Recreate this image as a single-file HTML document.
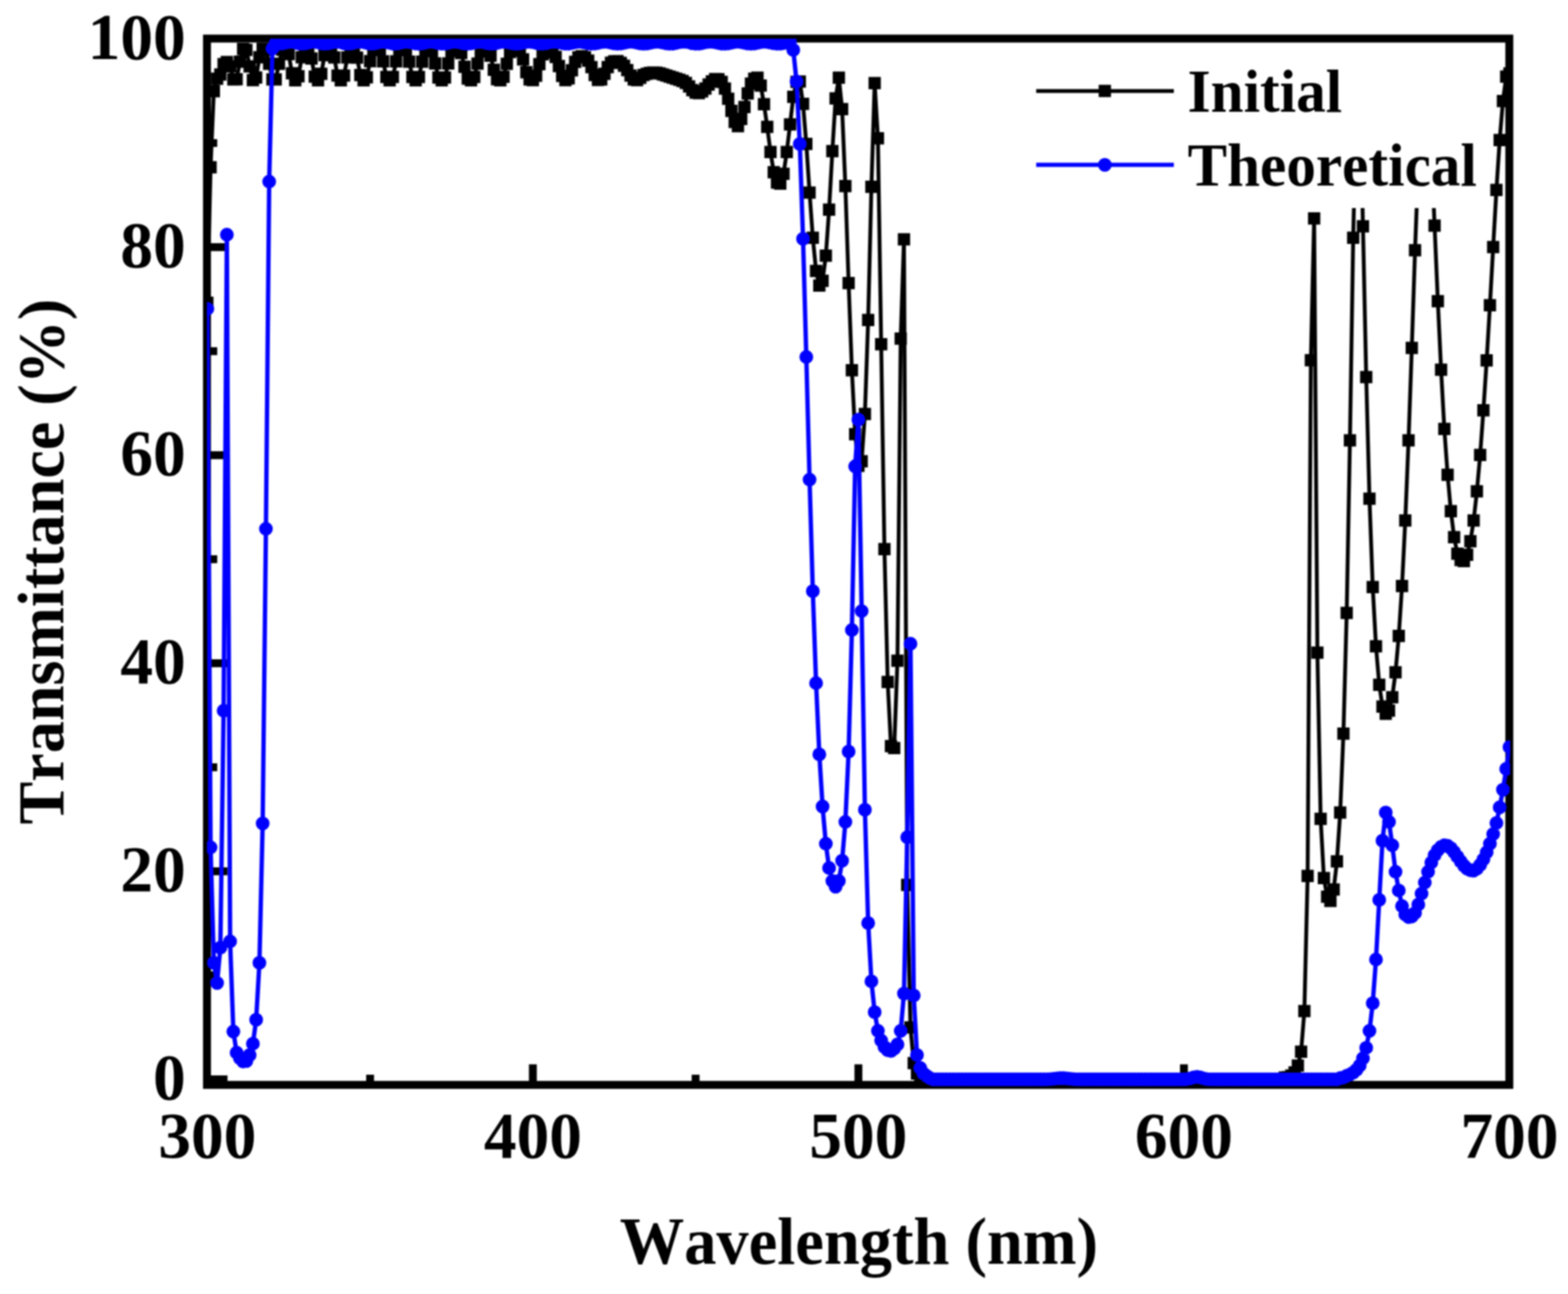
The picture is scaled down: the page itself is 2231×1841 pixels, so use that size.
<!DOCTYPE html>
<html lang="en"><head><meta charset="utf-8"><title>Transmittance vs Wavelength</title>
<style>
html,body{margin:0;padding:0;background:#fff;}
body{width:2231px;height:1841px;overflow:hidden;}
svg{display:block;filter:blur(1.1px);}
text{font-family:"Liberation Serif",serif;font-weight:bold;fill:#000;font-kerning:none;font-variant-ligatures:none;}
.tk{font-size:93px;}
.tt{font-size:91.8px;}
.ty{font-size:91.3px;}
.lg{font-size:84.2px;}
</style></head><body>
<svg width="2231" height="1841" viewBox="0 0 2231 1841">
<rect x="0" y="0" width="2231" height="1841" fill="#fff"/>
<defs><clipPath id="plot"><rect x="294.5" y="55" width="1854.2" height="1490.8"/></clipPath></defs>
<g id="axes" stroke="#000" fill="none" stroke-linecap="butt">
<rect x="294.5" y="54.9" width="1853" height="1488.6" stroke-width="11.3"/>
<path d="M526.59 1543.5V1528.9M758.17 1543.5V1514.3M989.76 1543.5V1528.9M1221.35 1543.5V1514.3M1452.94 1543.5V1528.9M1684.53 1543.5V1514.3M1916.11 1543.5V1528.9M294.5 1535.7H323.7M294.5 1387.68H309.1M294.5 1239.66H323.7M294.5 1091.64H309.1M294.5 943.62H323.7M294.5 795.6H309.1M294.5 647.58H323.7M294.5 499.56H309.1M294.5 351.54H323.7M294.5 203.52H309.1" stroke-width="11.2"/>
</g>
<g id="data" clip-path="url(#plot)">
<g id="series-initial">
<polyline points="295,430.68 299.63,237.99 304.26,129.74 308.9,111.99 313.53,106.08 318.16,91.29 322.79,88.33 327.42,94.62 332.05,112.94 336.69,112.75 341.32,87.65 345.95,69.85 350.58,70.94 355.21,94.4 359.84,113.89 364.48,110.32 369.11,81.47 373.74,69.36 378.37,70.63 383,90.79 387.63,113.01 392.27,113.01 396.9,90.79 401.53,70.63 406.16,69.27 410.79,76.93 415.43,104.17 420.06,114.2 424.69,108.4 429.32,81.43 433.95,69.56 438.58,69.83 443.22,83.21 447.85,108.97 452.48,114.2 457.11,105.1 461.74,78.5 466.37,69.4 471.01,69.73 475.64,81.75 480.27,107.58 484.9,114.21 489.53,107.58 494.17,81.75 498.8,69.73 503.43,69.92 508.06,82.04 512.69,106.8 517.32,114.21 521.96,109.99 526.59,86.99 531.22,70.79 535.85,69.12 540.48,71.23 545.11,87.34 549.75,109.38 554.38,114.21 559.01,109.38 563.64,87.34 568.27,71.23 572.9,69.14 577.54,71.35 582.17,87.65 586.8,109.47 591.43,114.21 596.06,109.47 600.7,87.65 605.33,71.35 609.96,69.15 614.59,72.64 619.22,90.32 623.85,110.15 628.49,114.21 633.12,110.15 637.75,90.32 642.38,72.64 647.01,69.22 651.64,69.49 656.28,75.41 660.91,95.04 665.54,111.64 670.17,114.21 674.8,109.62 679.44,90.47 684.07,73.18 688.7,69.28 693.33,70.16 697.96,79.14 702.59,99.36 707.23,112.66 711.86,114.19 716.49,109.18 721.12,90.86 725.75,73.89 730.38,69.39 735.02,69.28 739.65,72.11 744.28,84.4 748.91,102.8 753.54,113.1 758.17,114.1 762.81,107.83 767.44,91.25 772.07,77.27 776.7,72.76 781.33,72.67 785.97,74.58 790.6,80.96 795.23,94.01 799.86,107.94 804.49,114.1 809.12,111.41 813.76,99.9 818.39,87.92 823.02,81.59 827.65,79.98 832.28,81.54 836.91,86.23 841.55,95.39 846.18,106.66 850.81,113.64 855.44,112.88 860.07,105.09 864.71,95.47 869.34,89.31 873.97,87.13 878.6,87.02 883.23,89.43 887.86,93.42 892.5,99.8 897.13,107.43 901.76,113.03 906.39,114.01 911.02,110.83 915.65,106.82 920.29,105.02 924.92,103.86 929.55,103.21 934.18,103.38 938.81,104.62 943.44,106.08 948.08,107.47 952.71,108.99 957.34,110.52 961.97,111.92 966.6,113.47 971.24,115.36 975.87,117.91 980.5,123 985.13,128.26 989.76,131.64 994.39,132.51 999.03,129.96 1003.66,126.07 1008.29,120.31 1012.92,115.84 1017.55,112.41 1022.18,112.77 1026.82,116.43 1031.45,126.05 1036.08,140.56 1040.71,157.84 1045.34,173.59 1049.98,179.6 1054.61,169.3 1059.24,152.3 1063.87,132.9 1068.5,118.89 1073.13,111.99 1077.77,110.52 1082.4,121.75 1087.03,148.22 1091.66,180.61 1096.29,216.25 1100.92,245.09 1105.56,259.87 1110.19,261.35 1114.82,247.3 1119.45,216.25 1124.08,177.06 1128.71,137.87 1133.35,116.43 1137.98,115.99 1142.61,147.78 1147.24,204.72 1151.87,273.92 1156.51,338.25 1161.14,385.57 1165.77,406.28 1170.4,399.47 1175.03,363.69 1179.66,298.32 1184.3,215.07 1188.93,140.09 1193.56,110.52 1198.19,155.18 1202.82,264.75 1207.45,402.87 1212.09,526.65 1216.72,617.74 1221.35,662.85 1225.98,656.19 1230.61,588.91 1235.25,455.37 1239.88,265.79 1244.51,118.35 1249.14,196.73 1253.77,489.83 1258.4,781.3 1263.04,970.14 1267.67,1061.38 1272.3,1064.34 1276.93,940.12 1281.56,481.69 1286.19,340.62 1290.83,1259.1 1295.46,1461.84 1300.09,1512.42 1304.72,1527.21 1309.35,1531.64 1313.98,1535.64 1318.62,1535.64 1323.25,1535.64 1327.88,1535.64 1332.51,1535.64 1337.14,1535.64 1341.78,1535.64 1346.41,1535.64 1351.04,1535.64 1355.67,1535.64 1360.3,1535.64 1364.93,1535.64 1369.57,1535.64 1374.2,1535.64 1378.83,1535.64 1383.46,1535.64 1388.09,1535.64 1392.72,1535.64 1397.36,1535.64 1401.99,1535.64 1406.62,1535.64 1411.25,1535.64 1415.88,1535.64 1420.52,1535.64 1425.15,1535.64 1429.78,1535.64 1434.41,1535.64 1439.04,1535.64 1443.67,1535.64 1448.31,1535.64 1452.94,1535.64 1457.57,1535.64 1462.2,1535.64 1466.83,1535.64 1471.46,1535.64 1476.1,1535.64 1480.73,1535.64 1485.36,1535.64 1489.99,1535.64 1494.62,1535.64 1499.25,1535.64 1503.89,1535.64 1508.52,1535.64 1513.15,1535.64 1517.78,1535.64 1522.41,1535.64 1527.05,1535.64 1531.68,1535.64 1536.31,1535.64 1540.94,1535.64 1545.57,1535.64 1550.2,1535.64 1554.84,1535.64 1559.47,1535.64 1564.1,1535.64 1568.73,1535.64 1573.36,1535.64 1577.99,1535.64 1582.63,1535.64 1587.26,1535.64 1591.89,1535.64 1596.52,1535.64 1601.15,1535.64 1605.79,1535.64 1610.42,1535.64 1615.05,1535.64 1619.68,1535.64 1624.31,1535.64 1628.94,1535.64 1633.58,1535.64 1638.21,1535.64 1642.84,1535.64 1647.47,1535.64 1652.1,1535.64 1656.73,1535.64 1661.37,1535.64 1666,1535.64 1670.63,1535.64 1675.26,1535.64 1679.89,1535.64 1684.53,1535.64 1689.16,1535.64 1693.79,1535.64 1698.42,1535.64 1703.05,1535.64 1707.68,1535.64 1712.32,1535.64 1716.95,1535.64 1721.58,1535.64 1726.21,1535.64 1730.84,1535.64 1735.47,1535.64 1740.11,1535.64 1744.74,1535.64 1749.37,1535.64 1754,1535.64 1758.63,1535.64 1763.26,1535.64 1767.9,1535.64 1772.53,1535.64 1777.16,1535.64 1781.79,1535.64 1786.42,1535.64 1791.06,1535.64 1795.69,1535.64 1800.32,1535.64 1804.95,1535.64 1809.58,1535.64 1814.21,1535.64 1818.85,1535.64 1823.48,1535.64 1828.11,1533.12 1832.74,1532.38 1837.37,1530.16 1842,1525.73 1846.64,1515.97 1851.27,1496.15 1855.9,1438.48 1860.53,1246.23 1865.16,512.45 1869.79,310.75 1874.43,928.59 1879.06,1164.9 1883.69,1249.19 1888.32,1275.81 1892.95,1281.73 1897.59,1265.46 1902.22,1225.53 1906.85,1156.03 1911.48,1043.64 1916.11,872.1 1920.74,626.62 1925.38,338.25 1930.01,137.13 1934.64,114.95 1939.27,321.98 1943.9,536.41 1948.53,709.43 1953.17,835.13 1957.8,919.42 1962.43,974.13 1967.06,1005.19 1971.69,1015.54 1976.33,1011.1 1980.96,991.88 1985.59,956.39 1990.22,904.63 1994.85,833.65 1999.48,740.48 2004.12,626.62 2008.75,495 2013.38,356 2018.01,233.26 2022.64,151.92 2027.27,117.91 2031.91,137.13 2036.54,211.07 2041.17,321.1 2045.8,428.46 2050.43,526.06 2055.06,610.35 2059.7,675.42 2064.33,727.18 2068.96,764.15 2073.59,787.81 2078.22,796.68 2082.86,798.16 2087.49,789.28 2092.12,770.06 2096.75,740.48 2101.38,699.08 2106.01,647.32 2110.65,583.73 2115.28,512.75 2119.91,434.37 2124.54,351.56 2129.17,270.23 2133.8,199.24 2138.44,143.64 2143.07,109.04 2147.7,104.6" fill="none" stroke="#000" stroke-width="5.5" stroke-linejoin="round"/>
<path fill="#000" d="M286.25 421.93h17.5v17.5h-17.5zM290.88 229.24h17.5v17.5h-17.5zM295.51 120.99h17.5v17.5h-17.5zM300.15 103.24h17.5v17.5h-17.5zM304.78 97.33h17.5v17.5h-17.5zM309.41 82.54h17.5v17.5h-17.5zM314.04 79.58h17.5v17.5h-17.5zM318.67 85.87h17.5v17.5h-17.5zM323.3 104.19h17.5v17.5h-17.5zM327.94 104h17.5v17.5h-17.5zM332.57 78.9h17.5v17.5h-17.5zM337.2 61.1h17.5v17.5h-17.5zM341.83 62.19h17.5v17.5h-17.5zM346.46 85.65h17.5v17.5h-17.5zM351.09 105.14h17.5v17.5h-17.5zM355.73 101.57h17.5v17.5h-17.5zM360.36 72.72h17.5v17.5h-17.5zM364.99 60.61h17.5v17.5h-17.5zM369.62 61.88h17.5v17.5h-17.5zM374.25 82.04h17.5v17.5h-17.5zM378.88 104.26h17.5v17.5h-17.5zM383.52 104.26h17.5v17.5h-17.5zM388.15 82.04h17.5v17.5h-17.5zM392.78 61.88h17.5v17.5h-17.5zM397.41 60.52h17.5v17.5h-17.5zM402.04 68.18h17.5v17.5h-17.5zM406.68 95.42h17.5v17.5h-17.5zM411.31 105.45h17.5v17.5h-17.5zM415.94 99.65h17.5v17.5h-17.5zM420.57 72.68h17.5v17.5h-17.5zM425.2 60.81h17.5v17.5h-17.5zM429.83 61.08h17.5v17.5h-17.5zM434.47 74.46h17.5v17.5h-17.5zM439.1 100.22h17.5v17.5h-17.5zM443.73 105.45h17.5v17.5h-17.5zM448.36 96.35h17.5v17.5h-17.5zM452.99 69.75h17.5v17.5h-17.5zM457.62 60.65h17.5v17.5h-17.5zM462.26 60.98h17.5v17.5h-17.5zM466.89 73h17.5v17.5h-17.5zM471.52 98.83h17.5v17.5h-17.5zM476.15 105.46h17.5v17.5h-17.5zM480.78 98.83h17.5v17.5h-17.5zM485.42 73h17.5v17.5h-17.5zM490.05 60.98h17.5v17.5h-17.5zM494.68 61.17h17.5v17.5h-17.5zM499.31 73.29h17.5v17.5h-17.5zM503.94 98.05h17.5v17.5h-17.5zM508.57 105.46h17.5v17.5h-17.5zM513.21 101.24h17.5v17.5h-17.5zM517.84 78.24h17.5v17.5h-17.5zM522.47 62.04h17.5v17.5h-17.5zM527.1 60.37h17.5v17.5h-17.5zM531.73 62.48h17.5v17.5h-17.5zM536.36 78.59h17.5v17.5h-17.5zM541 100.63h17.5v17.5h-17.5zM545.63 105.46h17.5v17.5h-17.5zM550.26 100.63h17.5v17.5h-17.5zM554.89 78.59h17.5v17.5h-17.5zM559.52 62.48h17.5v17.5h-17.5zM564.15 60.39h17.5v17.5h-17.5zM568.79 62.6h17.5v17.5h-17.5zM573.42 78.9h17.5v17.5h-17.5zM578.05 100.72h17.5v17.5h-17.5zM582.68 105.46h17.5v17.5h-17.5zM587.31 100.72h17.5v17.5h-17.5zM591.95 78.9h17.5v17.5h-17.5zM596.58 62.6h17.5v17.5h-17.5zM601.21 60.4h17.5v17.5h-17.5zM605.84 63.89h17.5v17.5h-17.5zM610.47 81.57h17.5v17.5h-17.5zM615.1 101.4h17.5v17.5h-17.5zM619.74 105.46h17.5v17.5h-17.5zM624.37 101.4h17.5v17.5h-17.5zM629 81.57h17.5v17.5h-17.5zM633.63 63.89h17.5v17.5h-17.5zM638.26 60.47h17.5v17.5h-17.5zM642.89 60.74h17.5v17.5h-17.5zM647.53 66.66h17.5v17.5h-17.5zM652.16 86.29h17.5v17.5h-17.5zM656.79 102.89h17.5v17.5h-17.5zM661.42 105.46h17.5v17.5h-17.5zM666.05 100.87h17.5v17.5h-17.5zM670.69 81.72h17.5v17.5h-17.5zM675.32 64.43h17.5v17.5h-17.5zM679.95 60.53h17.5v17.5h-17.5zM684.58 61.41h17.5v17.5h-17.5zM689.21 70.39h17.5v17.5h-17.5zM693.84 90.61h17.5v17.5h-17.5zM698.48 103.91h17.5v17.5h-17.5zM703.11 105.44h17.5v17.5h-17.5zM707.74 100.43h17.5v17.5h-17.5zM712.37 82.11h17.5v17.5h-17.5zM717 65.14h17.5v17.5h-17.5zM721.63 60.64h17.5v17.5h-17.5zM726.27 60.53h17.5v17.5h-17.5zM730.9 63.36h17.5v17.5h-17.5zM735.53 75.65h17.5v17.5h-17.5zM740.16 94.05h17.5v17.5h-17.5zM744.79 104.35h17.5v17.5h-17.5zM749.42 105.35h17.5v17.5h-17.5zM754.06 99.08h17.5v17.5h-17.5zM758.69 82.5h17.5v17.5h-17.5zM763.32 68.52h17.5v17.5h-17.5zM767.95 64.01h17.5v17.5h-17.5zM772.58 63.92h17.5v17.5h-17.5zM777.22 65.83h17.5v17.5h-17.5zM781.85 72.21h17.5v17.5h-17.5zM786.48 85.26h17.5v17.5h-17.5zM791.11 99.19h17.5v17.5h-17.5zM795.74 105.35h17.5v17.5h-17.5zM800.37 102.66h17.5v17.5h-17.5zM805.01 91.15h17.5v17.5h-17.5zM809.64 79.17h17.5v17.5h-17.5zM814.27 72.84h17.5v17.5h-17.5zM818.9 71.23h17.5v17.5h-17.5zM823.53 72.79h17.5v17.5h-17.5zM828.16 77.48h17.5v17.5h-17.5zM832.8 86.64h17.5v17.5h-17.5zM837.43 97.91h17.5v17.5h-17.5zM842.06 104.89h17.5v17.5h-17.5zM846.69 104.13h17.5v17.5h-17.5zM851.32 96.34h17.5v17.5h-17.5zM855.96 86.72h17.5v17.5h-17.5zM860.59 80.56h17.5v17.5h-17.5zM865.22 78.38h17.5v17.5h-17.5zM869.85 78.27h17.5v17.5h-17.5zM874.48 80.68h17.5v17.5h-17.5zM879.11 84.67h17.5v17.5h-17.5zM883.75 91.05h17.5v17.5h-17.5zM888.38 98.68h17.5v17.5h-17.5zM893.01 104.28h17.5v17.5h-17.5zM897.64 105.26h17.5v17.5h-17.5zM902.27 102.08h17.5v17.5h-17.5zM906.9 98.07h17.5v17.5h-17.5zM911.54 96.27h17.5v17.5h-17.5zM916.17 95.11h17.5v17.5h-17.5zM920.8 94.46h17.5v17.5h-17.5zM925.43 94.63h17.5v17.5h-17.5zM930.06 95.87h17.5v17.5h-17.5zM934.69 97.33h17.5v17.5h-17.5zM939.33 98.72h17.5v17.5h-17.5zM943.96 100.24h17.5v17.5h-17.5zM948.59 101.77h17.5v17.5h-17.5zM953.22 103.17h17.5v17.5h-17.5zM957.85 104.72h17.5v17.5h-17.5zM962.49 106.61h17.5v17.5h-17.5zM967.12 109.16h17.5v17.5h-17.5zM971.75 114.25h17.5v17.5h-17.5zM976.38 119.51h17.5v17.5h-17.5zM981.01 122.89h17.5v17.5h-17.5zM985.64 123.76h17.5v17.5h-17.5zM990.28 121.21h17.5v17.5h-17.5zM994.91 117.32h17.5v17.5h-17.5zM999.54 111.56h17.5v17.5h-17.5zM1004.17 107.09h17.5v17.5h-17.5zM1008.8 103.66h17.5v17.5h-17.5zM1013.43 104.02h17.5v17.5h-17.5zM1018.07 107.68h17.5v17.5h-17.5zM1022.7 117.3h17.5v17.5h-17.5zM1027.33 131.81h17.5v17.5h-17.5zM1031.96 149.09h17.5v17.5h-17.5zM1036.59 164.84h17.5v17.5h-17.5zM1041.23 170.85h17.5v17.5h-17.5zM1045.86 160.55h17.5v17.5h-17.5zM1050.49 143.55h17.5v17.5h-17.5zM1055.12 124.15h17.5v17.5h-17.5zM1059.75 110.14h17.5v17.5h-17.5zM1064.38 103.24h17.5v17.5h-17.5zM1069.02 101.77h17.5v17.5h-17.5zM1073.65 113h17.5v17.5h-17.5zM1078.28 139.47h17.5v17.5h-17.5zM1082.91 171.86h17.5v17.5h-17.5zM1087.54 207.5h17.5v17.5h-17.5zM1092.17 236.34h17.5v17.5h-17.5zM1096.81 251.12h17.5v17.5h-17.5zM1101.44 252.6h17.5v17.5h-17.5zM1106.07 238.55h17.5v17.5h-17.5zM1110.7 207.5h17.5v17.5h-17.5zM1115.33 168.31h17.5v17.5h-17.5zM1119.96 129.12h17.5v17.5h-17.5zM1124.6 107.68h17.5v17.5h-17.5zM1129.23 107.24h17.5v17.5h-17.5zM1133.86 139.03h17.5v17.5h-17.5zM1138.49 195.97h17.5v17.5h-17.5zM1143.12 265.17h17.5v17.5h-17.5zM1147.76 329.5h17.5v17.5h-17.5zM1152.39 376.82h17.5v17.5h-17.5zM1157.02 397.53h17.5v17.5h-17.5zM1161.65 390.72h17.5v17.5h-17.5zM1166.28 354.94h17.5v17.5h-17.5zM1170.91 289.57h17.5v17.5h-17.5zM1175.55 206.32h17.5v17.5h-17.5zM1180.18 131.34h17.5v17.5h-17.5zM1184.81 101.77h17.5v17.5h-17.5zM1189.44 146.43h17.5v17.5h-17.5zM1194.07 256h17.5v17.5h-17.5zM1198.7 394.12h17.5v17.5h-17.5zM1203.34 517.9h17.5v17.5h-17.5zM1207.97 608.99h17.5v17.5h-17.5zM1212.6 654.1h17.5v17.5h-17.5zM1217.23 647.44h17.5v17.5h-17.5zM1221.86 580.16h17.5v17.5h-17.5zM1226.5 446.62h17.5v17.5h-17.5zM1231.13 257.04h17.5v17.5h-17.5zM1235.76 109.6h17.5v17.5h-17.5zM1240.39 187.98h17.5v17.5h-17.5zM1245.02 481.08h17.5v17.5h-17.5zM1249.65 772.55h17.5v17.5h-17.5zM1254.29 961.39h17.5v17.5h-17.5zM1258.92 1052.63h17.5v17.5h-17.5zM1263.55 1055.59h17.5v17.5h-17.5zM1268.18 931.37h17.5v17.5h-17.5zM1272.81 472.94h17.5v17.5h-17.5zM1277.44 331.87h17.5v17.5h-17.5zM1282.08 1250.35h17.5v17.5h-17.5zM1286.71 1453.09h17.5v17.5h-17.5zM1291.34 1503.67h17.5v17.5h-17.5zM1295.97 1518.46h17.5v17.5h-17.5zM1300.6 1522.89h17.5v17.5h-17.5zM1305.23 1526.89h17.5v17.5h-17.5zM1309.87 1526.89h17.5v17.5h-17.5zM1314.5 1526.89h17.5v17.5h-17.5zM1319.13 1526.89h17.5v17.5h-17.5zM1323.76 1526.89h17.5v17.5h-17.5zM1328.39 1526.89h17.5v17.5h-17.5zM1333.03 1526.89h17.5v17.5h-17.5zM1337.66 1526.89h17.5v17.5h-17.5zM1342.29 1526.89h17.5v17.5h-17.5zM1346.92 1526.89h17.5v17.5h-17.5zM1351.55 1526.89h17.5v17.5h-17.5zM1356.18 1526.89h17.5v17.5h-17.5zM1360.82 1526.89h17.5v17.5h-17.5zM1365.45 1526.89h17.5v17.5h-17.5zM1370.08 1526.89h17.5v17.5h-17.5zM1374.71 1526.89h17.5v17.5h-17.5zM1379.34 1526.89h17.5v17.5h-17.5zM1383.97 1526.89h17.5v17.5h-17.5zM1388.61 1526.89h17.5v17.5h-17.5zM1393.24 1526.89h17.5v17.5h-17.5zM1397.87 1526.89h17.5v17.5h-17.5zM1402.5 1526.89h17.5v17.5h-17.5zM1407.13 1526.89h17.5v17.5h-17.5zM1411.77 1526.89h17.5v17.5h-17.5zM1416.4 1526.89h17.5v17.5h-17.5zM1421.03 1526.89h17.5v17.5h-17.5zM1425.66 1526.89h17.5v17.5h-17.5zM1430.29 1526.89h17.5v17.5h-17.5zM1434.92 1526.89h17.5v17.5h-17.5zM1439.56 1526.89h17.5v17.5h-17.5zM1444.19 1526.89h17.5v17.5h-17.5zM1448.82 1526.89h17.5v17.5h-17.5zM1453.45 1526.89h17.5v17.5h-17.5zM1458.08 1526.89h17.5v17.5h-17.5zM1462.71 1526.89h17.5v17.5h-17.5zM1467.35 1526.89h17.5v17.5h-17.5zM1471.98 1526.89h17.5v17.5h-17.5zM1476.61 1526.89h17.5v17.5h-17.5zM1481.24 1526.89h17.5v17.5h-17.5zM1485.87 1526.89h17.5v17.5h-17.5zM1490.5 1526.89h17.5v17.5h-17.5zM1495.14 1526.89h17.5v17.5h-17.5zM1499.77 1526.89h17.5v17.5h-17.5zM1504.4 1526.89h17.5v17.5h-17.5zM1509.03 1526.89h17.5v17.5h-17.5zM1513.66 1526.89h17.5v17.5h-17.5zM1518.3 1526.89h17.5v17.5h-17.5zM1522.93 1526.89h17.5v17.5h-17.5zM1527.56 1526.89h17.5v17.5h-17.5zM1532.19 1526.89h17.5v17.5h-17.5zM1536.82 1526.89h17.5v17.5h-17.5zM1541.45 1526.89h17.5v17.5h-17.5zM1546.09 1526.89h17.5v17.5h-17.5zM1550.72 1526.89h17.5v17.5h-17.5zM1555.35 1526.89h17.5v17.5h-17.5zM1559.98 1526.89h17.5v17.5h-17.5zM1564.61 1526.89h17.5v17.5h-17.5zM1569.24 1526.89h17.5v17.5h-17.5zM1573.88 1526.89h17.5v17.5h-17.5zM1578.51 1526.89h17.5v17.5h-17.5zM1583.14 1526.89h17.5v17.5h-17.5zM1587.77 1526.89h17.5v17.5h-17.5zM1592.4 1526.89h17.5v17.5h-17.5zM1597.04 1526.89h17.5v17.5h-17.5zM1601.67 1526.89h17.5v17.5h-17.5zM1606.3 1526.89h17.5v17.5h-17.5zM1610.93 1526.89h17.5v17.5h-17.5zM1615.56 1526.89h17.5v17.5h-17.5zM1620.19 1526.89h17.5v17.5h-17.5zM1624.83 1526.89h17.5v17.5h-17.5zM1629.46 1526.89h17.5v17.5h-17.5zM1634.09 1526.89h17.5v17.5h-17.5zM1638.72 1526.89h17.5v17.5h-17.5zM1643.35 1526.89h17.5v17.5h-17.5zM1647.98 1526.89h17.5v17.5h-17.5zM1652.62 1526.89h17.5v17.5h-17.5zM1657.25 1526.89h17.5v17.5h-17.5zM1661.88 1526.89h17.5v17.5h-17.5zM1666.51 1526.89h17.5v17.5h-17.5zM1671.14 1526.89h17.5v17.5h-17.5zM1675.78 1526.89h17.5v17.5h-17.5zM1680.41 1526.89h17.5v17.5h-17.5zM1685.04 1526.89h17.5v17.5h-17.5zM1689.67 1526.89h17.5v17.5h-17.5zM1694.3 1526.89h17.5v17.5h-17.5zM1698.93 1526.89h17.5v17.5h-17.5zM1703.57 1526.89h17.5v17.5h-17.5zM1708.2 1526.89h17.5v17.5h-17.5zM1712.83 1526.89h17.5v17.5h-17.5zM1717.46 1526.89h17.5v17.5h-17.5zM1722.09 1526.89h17.5v17.5h-17.5zM1726.72 1526.89h17.5v17.5h-17.5zM1731.36 1526.89h17.5v17.5h-17.5zM1735.99 1526.89h17.5v17.5h-17.5zM1740.62 1526.89h17.5v17.5h-17.5zM1745.25 1526.89h17.5v17.5h-17.5zM1749.88 1526.89h17.5v17.5h-17.5zM1754.51 1526.89h17.5v17.5h-17.5zM1759.15 1526.89h17.5v17.5h-17.5zM1763.78 1526.89h17.5v17.5h-17.5zM1768.41 1526.89h17.5v17.5h-17.5zM1773.04 1526.89h17.5v17.5h-17.5zM1777.67 1526.89h17.5v17.5h-17.5zM1782.31 1526.89h17.5v17.5h-17.5zM1786.94 1526.89h17.5v17.5h-17.5zM1791.57 1526.89h17.5v17.5h-17.5zM1796.2 1526.89h17.5v17.5h-17.5zM1800.83 1526.89h17.5v17.5h-17.5zM1805.46 1526.89h17.5v17.5h-17.5zM1810.1 1526.89h17.5v17.5h-17.5zM1814.73 1526.89h17.5v17.5h-17.5zM1819.36 1524.37h17.5v17.5h-17.5zM1823.99 1523.63h17.5v17.5h-17.5zM1828.62 1521.41h17.5v17.5h-17.5zM1833.25 1516.98h17.5v17.5h-17.5zM1837.89 1507.22h17.5v17.5h-17.5zM1842.52 1487.4h17.5v17.5h-17.5zM1847.15 1429.73h17.5v17.5h-17.5zM1851.78 1237.48h17.5v17.5h-17.5zM1856.41 503.7h17.5v17.5h-17.5zM1861.04 302h17.5v17.5h-17.5zM1865.68 919.84h17.5v17.5h-17.5zM1870.31 1156.15h17.5v17.5h-17.5zM1874.94 1240.44h17.5v17.5h-17.5zM1879.57 1267.06h17.5v17.5h-17.5zM1884.2 1272.98h17.5v17.5h-17.5zM1888.84 1256.71h17.5v17.5h-17.5zM1893.47 1216.78h17.5v17.5h-17.5zM1898.1 1147.28h17.5v17.5h-17.5zM1902.73 1034.89h17.5v17.5h-17.5zM1907.36 863.35h17.5v17.5h-17.5zM1911.99 617.87h17.5v17.5h-17.5zM1916.63 329.5h17.5v17.5h-17.5zM1921.26 128.38h17.5v17.5h-17.5zM1925.89 106.2h17.5v17.5h-17.5zM1930.52 313.23h17.5v17.5h-17.5zM1935.15 527.66h17.5v17.5h-17.5zM1939.78 700.68h17.5v17.5h-17.5zM1944.42 826.38h17.5v17.5h-17.5zM1949.05 910.67h17.5v17.5h-17.5zM1953.68 965.38h17.5v17.5h-17.5zM1958.31 996.44h17.5v17.5h-17.5zM1962.94 1006.79h17.5v17.5h-17.5zM1967.58 1002.35h17.5v17.5h-17.5zM1972.21 983.13h17.5v17.5h-17.5zM1976.84 947.64h17.5v17.5h-17.5zM1981.47 895.88h17.5v17.5h-17.5zM1986.1 824.9h17.5v17.5h-17.5zM1990.73 731.73h17.5v17.5h-17.5zM1995.37 617.87h17.5v17.5h-17.5zM2000 486.25h17.5v17.5h-17.5zM2004.63 347.25h17.5v17.5h-17.5zM2009.26 224.51h17.5v17.5h-17.5zM2013.89 143.17h17.5v17.5h-17.5zM2018.52 109.16h17.5v17.5h-17.5zM2023.16 128.38h17.5v17.5h-17.5zM2027.79 202.32h17.5v17.5h-17.5zM2032.42 312.35h17.5v17.5h-17.5zM2037.05 419.71h17.5v17.5h-17.5zM2041.68 517.31h17.5v17.5h-17.5zM2046.31 601.6h17.5v17.5h-17.5zM2050.95 666.67h17.5v17.5h-17.5zM2055.58 718.43h17.5v17.5h-17.5zM2060.21 755.4h17.5v17.5h-17.5zM2064.84 779.06h17.5v17.5h-17.5zM2069.47 787.93h17.5v17.5h-17.5zM2074.11 789.41h17.5v17.5h-17.5zM2078.74 780.53h17.5v17.5h-17.5zM2083.37 761.31h17.5v17.5h-17.5zM2088 731.73h17.5v17.5h-17.5zM2092.63 690.33h17.5v17.5h-17.5zM2097.26 638.57h17.5v17.5h-17.5zM2101.9 574.98h17.5v17.5h-17.5zM2106.53 504h17.5v17.5h-17.5zM2111.16 425.62h17.5v17.5h-17.5zM2115.79 342.81h17.5v17.5h-17.5zM2120.42 261.48h17.5v17.5h-17.5zM2125.05 190.49h17.5v17.5h-17.5zM2129.69 134.89h17.5v17.5h-17.5zM2134.32 100.29h17.5v17.5h-17.5zM2138.95 95.85h17.5v17.5h-17.5z"/>
</g>
<g id="series-theoretical">
<polyline points="295,439.4 299.63,1205.57 304.26,1369.71 308.9,1398.55 313.53,1348.27 318.16,1011.1 322.79,333.81 327.42,1339.4 332.05,1467.61 336.69,1497.63 341.32,1505.62 345.95,1510.2 350.58,1509.46 355.21,1501.03 359.84,1484.91 364.48,1450.75 369.11,1369.71 373.74,1171.55 378.37,752.31 383,258.4 387.63,69.11 392.27,61.55 396.9,62.29 401.53,61.9 406.16,60.69 410.79,59.59 415.43,59.43 420.06,60.34 424.69,61.62 429.32,62.3 433.95,61.87 438.58,60.66 443.22,59.57 447.85,59.43 452.48,60.33 457.11,61.6 461.74,62.29 466.37,61.9 471.01,60.72 475.64,59.61 480.27,59.41 484.9,60.24 489.53,61.5 494.17,62.27 498.8,61.99 503.43,60.87 508.06,59.72 512.69,59.37 517.32,60.07 521.96,61.32 526.59,62.21 531.22,62.12 535.85,61.1 540.48,59.9 545.11,59.35 549.75,59.85 554.38,61.04 559.01,62.08 563.64,62.24 568.27,61.42 572.9,60.18 577.54,59.4 582.17,59.61 586.8,60.66 591.43,61.83 596.06,62.31 600.7,61.77 605.33,60.58 609.96,59.57 614.59,59.41 619.22,60.22 623.85,61.44 628.49,62.24 633.12,62.09 637.75,61.09 642.38,59.92 647.01,59.35 651.64,59.78 656.28,60.9 660.91,61.98 665.54,62.29 670.17,61.64 674.8,60.45 679.44,59.51 684.07,59.44 688.7,60.28 693.33,61.47 697.96,62.24 702.59,62.1 707.23,61.13 711.86,59.96 716.49,59.36 721.12,59.7 725.75,60.76 730.38,61.87 735.02,62.31 739.65,61.8 744.28,60.68 748.91,59.65 753.54,59.37 758.17,60.01 762.81,61.16 767.44,62.1 772.07,62.25 776.7,61.5 781.33,60.34 785.97,59.48 790.6,59.46 795.23,60.28 799.86,61.44 804.49,62.22 809.12,62.15 813.76,61.26 818.39,60.11 823.02,59.4 827.65,59.56 832.28,60.49 836.91,61.62 841.55,62.28 846.18,62.06 850.81,61.1 855.44,59.98 860.07,59.37 864.71,59.63 869.34,60.6 873.97,61.71 878.6,62.29 883.23,62.01 887.86,61.03 892.5,59.93 897.13,59.36 901.76,59.65 906.39,60.62 911.02,61.72 915.65,62.29 920.29,62.02 924.92,61.05 929.55,59.96 934.18,59.37 938.81,59.62 943.44,60.56 948.08,61.65 952.71,62.28 957.34,62.08 961.97,61.17 966.6,60.07 971.24,59.4 975.87,59.54 980.5,60.4 985.13,61.5 989.76,62.23 994.39,62.17 999.03,61.36 1003.66,60.26 1008.29,59.47 1012.92,59.44 1017.55,60.17 1022.18,61.26 1026.82,62.12 1031.45,62.26 1036.08,61.62 1040.71,60.55 1045.34,59.63 1049.98,59.36 1054.61,59.89 1059.24,60.92 1063.87,61.91 1068.5,62.31 1073.13,61.91 1077.77,60.94 1082.4,59.91 1087.03,59.37 1091.66,59.61 1096.29,60.49 1100.92,61.56 1105.56,62.24 1110.19,62.17 1114.82,61.4 1119.45,60.33 1124.08,59.52 1128.71,71.03 1133.35,115.99 1137.98,204.72 1142.61,339.73 1147.24,507.87 1151.87,682.37 1156.51,841.04 1161.14,971.92 1165.77,1073.21 1170.4,1147.45 1175.03,1200.39 1179.66,1234.85 1184.3,1253.33 1188.93,1261.47 1193.56,1253.33 1198.19,1224.5 1202.82,1169.34 1207.45,1069.22 1212.09,896.35 1216.72,663.59 1221.35,597.04 1225.98,869.44 1230.61,1152.03 1235.25,1313.22 1239.88,1396.18 1244.51,1439.96 1249.14,1466.58 1253.77,1480.33 1258.4,1489.5 1263.04,1494.08 1267.67,1495.26 1272.3,1491.71 1276.93,1485.95 1281.56,1466.58 1286.19,1413.49 1290.83,1191.07 1295.46,915.87 1300.09,1416.3 1304.72,1501.03 1309.35,1519.37 1313.98,1527.21 1318.62,1530.9 1323.25,1533.86 1327.88,1535.64 1332.51,1535.64 1337.14,1535.64 1341.78,1535.64 1346.41,1535.64 1351.04,1535.64 1355.67,1535.64 1360.3,1535.64 1364.93,1535.64 1369.57,1535.64 1374.2,1535.64 1378.83,1535.64 1383.46,1535.64 1388.09,1535.64 1392.72,1535.64 1397.36,1535.64 1401.99,1535.64 1406.62,1535.64 1411.25,1535.64 1415.88,1535.64 1420.52,1535.64 1425.15,1535.64 1429.78,1535.64 1434.41,1535.64 1439.04,1535.64 1443.67,1535.64 1448.31,1535.64 1452.94,1535.64 1457.57,1535.64 1462.2,1535.64 1466.83,1535.64 1471.46,1535.63 1476.1,1535.63 1480.73,1535.62 1485.36,1535.57 1489.99,1535.45 1494.62,1535.18 1499.25,1534.75 1503.89,1534.25 1508.52,1533.91 1513.15,1533.91 1517.78,1534.25 1522.41,1534.75 1527.05,1535.18 1531.68,1535.45 1536.31,1535.57 1540.94,1535.62 1545.57,1535.63 1550.2,1535.63 1554.84,1535.64 1559.47,1535.64 1564.1,1535.64 1568.73,1535.64 1573.36,1535.64 1577.99,1535.64 1582.63,1535.64 1587.26,1535.64 1591.89,1535.64 1596.52,1535.64 1601.15,1535.64 1605.79,1535.64 1610.42,1535.64 1615.05,1535.64 1619.68,1535.64 1624.31,1535.64 1628.94,1535.64 1633.58,1535.64 1638.21,1535.64 1642.84,1535.64 1647.47,1535.64 1652.1,1535.64 1656.73,1535.64 1661.37,1535.64 1666,1535.64 1670.63,1535.64 1675.26,1535.63 1679.89,1535.63 1684.53,1535.57 1689.16,1535.25 1693.79,1534.28 1698.42,1532.76 1703.05,1531.94 1707.68,1532.76 1712.32,1534.28 1716.95,1535.25 1721.58,1535.57 1726.21,1535.63 1730.84,1535.63 1735.47,1535.64 1740.11,1535.64 1744.74,1535.64 1749.37,1535.64 1754,1535.64 1758.63,1535.64 1763.26,1535.64 1767.9,1535.64 1772.53,1535.64 1777.16,1535.64 1781.79,1535.64 1786.42,1535.64 1791.06,1535.64 1795.69,1535.64 1800.32,1535.64 1804.95,1535.64 1809.58,1535.64 1814.21,1535.64 1818.85,1535.64 1823.48,1535.64 1828.11,1535.64 1832.74,1535.64 1837.37,1535.64 1842,1535.64 1846.64,1535.64 1851.27,1535.64 1855.9,1535.64 1860.53,1535.64 1865.16,1535.64 1869.79,1535.64 1874.43,1535.64 1879.06,1535.64 1883.69,1535.64 1888.32,1535.64 1892.95,1535.64 1897.59,1535.64 1902.22,1535.64 1906.85,1533.86 1911.48,1532.83 1916.11,1530.61 1920.74,1528.68 1925.38,1526.02 1930.01,1522.03 1934.64,1515.97 1939.27,1505.62 1943.9,1490.68 1948.53,1466.58 1953.17,1427.24 1957.8,1365.13 1962.43,1280.25 1967.06,1195.95 1971.69,1156.03 1976.33,1169.34 1980.96,1202.61 1985.59,1240.32 1990.22,1266.94 1994.85,1289.12 1999.48,1300.95 2004.12,1304.65 2008.75,1303.91 2013.38,1298.73 2018.01,1286.9 2022.64,1271.37 2027.27,1255.57 2031.91,1240.32 2036.54,1227.1 2041.17,1216.66 2045.8,1209.54 2050.43,1204.83 2055.06,1202.61 2059.7,1203.35 2064.33,1206.75 2068.96,1212.22 2073.59,1218.75 2078.22,1225.53 2082.86,1231.52 2087.49,1235.88 2092.12,1238.18 2096.75,1238.61 2101.38,1235.88 2106.01,1230.49 2110.65,1222.57 2115.28,1212.57 2119.91,1200.39 2124.54,1186.59 2129.17,1170.82 2133.8,1148.63 2138.44,1123.49 2143.07,1093.92 2147.7,1062.86" fill="none" stroke="#00f" stroke-width="6.2" stroke-linejoin="round"/>
<path fill="#00f" d="M285.2 439.4a9.8 9.8 0 1 0 19.6 0a9.8 9.8 0 1 0 -19.6 0zM289.83 1205.57a9.8 9.8 0 1 0 19.6 0a9.8 9.8 0 1 0 -19.6 0zM294.46 1369.71a9.8 9.8 0 1 0 19.6 0a9.8 9.8 0 1 0 -19.6 0zM299.1 1398.55a9.8 9.8 0 1 0 19.6 0a9.8 9.8 0 1 0 -19.6 0zM303.73 1348.27a9.8 9.8 0 1 0 19.6 0a9.8 9.8 0 1 0 -19.6 0zM308.36 1011.1a9.8 9.8 0 1 0 19.6 0a9.8 9.8 0 1 0 -19.6 0zM312.99 333.81a9.8 9.8 0 1 0 19.6 0a9.8 9.8 0 1 0 -19.6 0zM317.62 1339.4a9.8 9.8 0 1 0 19.6 0a9.8 9.8 0 1 0 -19.6 0zM322.25 1467.61a9.8 9.8 0 1 0 19.6 0a9.8 9.8 0 1 0 -19.6 0zM326.89 1497.63a9.8 9.8 0 1 0 19.6 0a9.8 9.8 0 1 0 -19.6 0zM331.52 1505.62a9.8 9.8 0 1 0 19.6 0a9.8 9.8 0 1 0 -19.6 0zM336.15 1510.2a9.8 9.8 0 1 0 19.6 0a9.8 9.8 0 1 0 -19.6 0zM340.78 1509.46a9.8 9.8 0 1 0 19.6 0a9.8 9.8 0 1 0 -19.6 0zM345.41 1501.03a9.8 9.8 0 1 0 19.6 0a9.8 9.8 0 1 0 -19.6 0zM350.04 1484.91a9.8 9.8 0 1 0 19.6 0a9.8 9.8 0 1 0 -19.6 0zM354.68 1450.75a9.8 9.8 0 1 0 19.6 0a9.8 9.8 0 1 0 -19.6 0zM359.31 1369.71a9.8 9.8 0 1 0 19.6 0a9.8 9.8 0 1 0 -19.6 0zM363.94 1171.55a9.8 9.8 0 1 0 19.6 0a9.8 9.8 0 1 0 -19.6 0zM368.57 752.31a9.8 9.8 0 1 0 19.6 0a9.8 9.8 0 1 0 -19.6 0zM373.2 258.4a9.8 9.8 0 1 0 19.6 0a9.8 9.8 0 1 0 -19.6 0zM377.83 69.11a9.8 9.8 0 1 0 19.6 0a9.8 9.8 0 1 0 -19.6 0zM382.47 61.55a9.8 9.8 0 1 0 19.6 0a9.8 9.8 0 1 0 -19.6 0zM387.1 62.29a9.8 9.8 0 1 0 19.6 0a9.8 9.8 0 1 0 -19.6 0zM391.73 61.9a9.8 9.8 0 1 0 19.6 0a9.8 9.8 0 1 0 -19.6 0zM396.36 60.69a9.8 9.8 0 1 0 19.6 0a9.8 9.8 0 1 0 -19.6 0zM400.99 59.59a9.8 9.8 0 1 0 19.6 0a9.8 9.8 0 1 0 -19.6 0zM405.63 59.43a9.8 9.8 0 1 0 19.6 0a9.8 9.8 0 1 0 -19.6 0zM410.26 60.34a9.8 9.8 0 1 0 19.6 0a9.8 9.8 0 1 0 -19.6 0zM414.89 61.62a9.8 9.8 0 1 0 19.6 0a9.8 9.8 0 1 0 -19.6 0zM419.52 62.3a9.8 9.8 0 1 0 19.6 0a9.8 9.8 0 1 0 -19.6 0zM424.15 61.87a9.8 9.8 0 1 0 19.6 0a9.8 9.8 0 1 0 -19.6 0zM428.78 60.66a9.8 9.8 0 1 0 19.6 0a9.8 9.8 0 1 0 -19.6 0zM433.42 59.57a9.8 9.8 0 1 0 19.6 0a9.8 9.8 0 1 0 -19.6 0zM438.05 59.43a9.8 9.8 0 1 0 19.6 0a9.8 9.8 0 1 0 -19.6 0zM442.68 60.33a9.8 9.8 0 1 0 19.6 0a9.8 9.8 0 1 0 -19.6 0zM447.31 61.6a9.8 9.8 0 1 0 19.6 0a9.8 9.8 0 1 0 -19.6 0zM451.94 62.29a9.8 9.8 0 1 0 19.6 0a9.8 9.8 0 1 0 -19.6 0zM456.57 61.9a9.8 9.8 0 1 0 19.6 0a9.8 9.8 0 1 0 -19.6 0zM461.21 60.72a9.8 9.8 0 1 0 19.6 0a9.8 9.8 0 1 0 -19.6 0zM465.84 59.61a9.8 9.8 0 1 0 19.6 0a9.8 9.8 0 1 0 -19.6 0zM470.47 59.41a9.8 9.8 0 1 0 19.6 0a9.8 9.8 0 1 0 -19.6 0zM475.1 60.24a9.8 9.8 0 1 0 19.6 0a9.8 9.8 0 1 0 -19.6 0zM479.73 61.5a9.8 9.8 0 1 0 19.6 0a9.8 9.8 0 1 0 -19.6 0zM484.37 62.27a9.8 9.8 0 1 0 19.6 0a9.8 9.8 0 1 0 -19.6 0zM489 61.99a9.8 9.8 0 1 0 19.6 0a9.8 9.8 0 1 0 -19.6 0zM493.63 60.87a9.8 9.8 0 1 0 19.6 0a9.8 9.8 0 1 0 -19.6 0zM498.26 59.72a9.8 9.8 0 1 0 19.6 0a9.8 9.8 0 1 0 -19.6 0zM502.89 59.37a9.8 9.8 0 1 0 19.6 0a9.8 9.8 0 1 0 -19.6 0zM507.52 60.07a9.8 9.8 0 1 0 19.6 0a9.8 9.8 0 1 0 -19.6 0zM512.16 61.32a9.8 9.8 0 1 0 19.6 0a9.8 9.8 0 1 0 -19.6 0zM516.79 62.21a9.8 9.8 0 1 0 19.6 0a9.8 9.8 0 1 0 -19.6 0zM521.42 62.12a9.8 9.8 0 1 0 19.6 0a9.8 9.8 0 1 0 -19.6 0zM526.05 61.1a9.8 9.8 0 1 0 19.6 0a9.8 9.8 0 1 0 -19.6 0zM530.68 59.9a9.8 9.8 0 1 0 19.6 0a9.8 9.8 0 1 0 -19.6 0zM535.31 59.35a9.8 9.8 0 1 0 19.6 0a9.8 9.8 0 1 0 -19.6 0zM539.95 59.85a9.8 9.8 0 1 0 19.6 0a9.8 9.8 0 1 0 -19.6 0zM544.58 61.04a9.8 9.8 0 1 0 19.6 0a9.8 9.8 0 1 0 -19.6 0zM549.21 62.08a9.8 9.8 0 1 0 19.6 0a9.8 9.8 0 1 0 -19.6 0zM553.84 62.24a9.8 9.8 0 1 0 19.6 0a9.8 9.8 0 1 0 -19.6 0zM558.47 61.42a9.8 9.8 0 1 0 19.6 0a9.8 9.8 0 1 0 -19.6 0zM563.11 60.18a9.8 9.8 0 1 0 19.6 0a9.8 9.8 0 1 0 -19.6 0zM567.74 59.4a9.8 9.8 0 1 0 19.6 0a9.8 9.8 0 1 0 -19.6 0zM572.37 59.61a9.8 9.8 0 1 0 19.6 0a9.8 9.8 0 1 0 -19.6 0zM577 60.66a9.8 9.8 0 1 0 19.6 0a9.8 9.8 0 1 0 -19.6 0zM581.63 61.83a9.8 9.8 0 1 0 19.6 0a9.8 9.8 0 1 0 -19.6 0zM586.26 62.31a9.8 9.8 0 1 0 19.6 0a9.8 9.8 0 1 0 -19.6 0zM590.9 61.77a9.8 9.8 0 1 0 19.6 0a9.8 9.8 0 1 0 -19.6 0zM595.53 60.58a9.8 9.8 0 1 0 19.6 0a9.8 9.8 0 1 0 -19.6 0zM600.16 59.57a9.8 9.8 0 1 0 19.6 0a9.8 9.8 0 1 0 -19.6 0zM604.79 59.41a9.8 9.8 0 1 0 19.6 0a9.8 9.8 0 1 0 -19.6 0zM609.42 60.22a9.8 9.8 0 1 0 19.6 0a9.8 9.8 0 1 0 -19.6 0zM614.05 61.44a9.8 9.8 0 1 0 19.6 0a9.8 9.8 0 1 0 -19.6 0zM618.69 62.24a9.8 9.8 0 1 0 19.6 0a9.8 9.8 0 1 0 -19.6 0zM623.32 62.09a9.8 9.8 0 1 0 19.6 0a9.8 9.8 0 1 0 -19.6 0zM627.95 61.09a9.8 9.8 0 1 0 19.6 0a9.8 9.8 0 1 0 -19.6 0zM632.58 59.92a9.8 9.8 0 1 0 19.6 0a9.8 9.8 0 1 0 -19.6 0zM637.21 59.35a9.8 9.8 0 1 0 19.6 0a9.8 9.8 0 1 0 -19.6 0zM641.84 59.78a9.8 9.8 0 1 0 19.6 0a9.8 9.8 0 1 0 -19.6 0zM646.48 60.9a9.8 9.8 0 1 0 19.6 0a9.8 9.8 0 1 0 -19.6 0zM651.11 61.98a9.8 9.8 0 1 0 19.6 0a9.8 9.8 0 1 0 -19.6 0zM655.74 62.29a9.8 9.8 0 1 0 19.6 0a9.8 9.8 0 1 0 -19.6 0zM660.37 61.64a9.8 9.8 0 1 0 19.6 0a9.8 9.8 0 1 0 -19.6 0zM665 60.45a9.8 9.8 0 1 0 19.6 0a9.8 9.8 0 1 0 -19.6 0zM669.64 59.51a9.8 9.8 0 1 0 19.6 0a9.8 9.8 0 1 0 -19.6 0zM674.27 59.44a9.8 9.8 0 1 0 19.6 0a9.8 9.8 0 1 0 -19.6 0zM678.9 60.28a9.8 9.8 0 1 0 19.6 0a9.8 9.8 0 1 0 -19.6 0zM683.53 61.47a9.8 9.8 0 1 0 19.6 0a9.8 9.8 0 1 0 -19.6 0zM688.16 62.24a9.8 9.8 0 1 0 19.6 0a9.8 9.8 0 1 0 -19.6 0zM692.79 62.1a9.8 9.8 0 1 0 19.6 0a9.8 9.8 0 1 0 -19.6 0zM697.43 61.13a9.8 9.8 0 1 0 19.6 0a9.8 9.8 0 1 0 -19.6 0zM702.06 59.96a9.8 9.8 0 1 0 19.6 0a9.8 9.8 0 1 0 -19.6 0zM706.69 59.36a9.8 9.8 0 1 0 19.6 0a9.8 9.8 0 1 0 -19.6 0zM711.32 59.7a9.8 9.8 0 1 0 19.6 0a9.8 9.8 0 1 0 -19.6 0zM715.95 60.76a9.8 9.8 0 1 0 19.6 0a9.8 9.8 0 1 0 -19.6 0zM720.58 61.87a9.8 9.8 0 1 0 19.6 0a9.8 9.8 0 1 0 -19.6 0zM725.22 62.31a9.8 9.8 0 1 0 19.6 0a9.8 9.8 0 1 0 -19.6 0zM729.85 61.8a9.8 9.8 0 1 0 19.6 0a9.8 9.8 0 1 0 -19.6 0zM734.48 60.68a9.8 9.8 0 1 0 19.6 0a9.8 9.8 0 1 0 -19.6 0zM739.11 59.65a9.8 9.8 0 1 0 19.6 0a9.8 9.8 0 1 0 -19.6 0zM743.74 59.37a9.8 9.8 0 1 0 19.6 0a9.8 9.8 0 1 0 -19.6 0zM748.38 60.01a9.8 9.8 0 1 0 19.6 0a9.8 9.8 0 1 0 -19.6 0zM753.01 61.16a9.8 9.8 0 1 0 19.6 0a9.8 9.8 0 1 0 -19.6 0zM757.64 62.1a9.8 9.8 0 1 0 19.6 0a9.8 9.8 0 1 0 -19.6 0zM762.27 62.25a9.8 9.8 0 1 0 19.6 0a9.8 9.8 0 1 0 -19.6 0zM766.9 61.5a9.8 9.8 0 1 0 19.6 0a9.8 9.8 0 1 0 -19.6 0zM771.53 60.34a9.8 9.8 0 1 0 19.6 0a9.8 9.8 0 1 0 -19.6 0zM776.17 59.48a9.8 9.8 0 1 0 19.6 0a9.8 9.8 0 1 0 -19.6 0zM780.8 59.46a9.8 9.8 0 1 0 19.6 0a9.8 9.8 0 1 0 -19.6 0zM785.43 60.28a9.8 9.8 0 1 0 19.6 0a9.8 9.8 0 1 0 -19.6 0zM790.06 61.44a9.8 9.8 0 1 0 19.6 0a9.8 9.8 0 1 0 -19.6 0zM794.69 62.22a9.8 9.8 0 1 0 19.6 0a9.8 9.8 0 1 0 -19.6 0zM799.32 62.15a9.8 9.8 0 1 0 19.6 0a9.8 9.8 0 1 0 -19.6 0zM803.96 61.26a9.8 9.8 0 1 0 19.6 0a9.8 9.8 0 1 0 -19.6 0zM808.59 60.11a9.8 9.8 0 1 0 19.6 0a9.8 9.8 0 1 0 -19.6 0zM813.22 59.4a9.8 9.8 0 1 0 19.6 0a9.8 9.8 0 1 0 -19.6 0zM817.85 59.56a9.8 9.8 0 1 0 19.6 0a9.8 9.8 0 1 0 -19.6 0zM822.48 60.49a9.8 9.8 0 1 0 19.6 0a9.8 9.8 0 1 0 -19.6 0zM827.11 61.62a9.8 9.8 0 1 0 19.6 0a9.8 9.8 0 1 0 -19.6 0zM831.75 62.28a9.8 9.8 0 1 0 19.6 0a9.8 9.8 0 1 0 -19.6 0zM836.38 62.06a9.8 9.8 0 1 0 19.6 0a9.8 9.8 0 1 0 -19.6 0zM841.01 61.1a9.8 9.8 0 1 0 19.6 0a9.8 9.8 0 1 0 -19.6 0zM845.64 59.98a9.8 9.8 0 1 0 19.6 0a9.8 9.8 0 1 0 -19.6 0zM850.27 59.37a9.8 9.8 0 1 0 19.6 0a9.8 9.8 0 1 0 -19.6 0zM854.91 59.63a9.8 9.8 0 1 0 19.6 0a9.8 9.8 0 1 0 -19.6 0zM859.54 60.6a9.8 9.8 0 1 0 19.6 0a9.8 9.8 0 1 0 -19.6 0zM864.17 61.71a9.8 9.8 0 1 0 19.6 0a9.8 9.8 0 1 0 -19.6 0zM868.8 62.29a9.8 9.8 0 1 0 19.6 0a9.8 9.8 0 1 0 -19.6 0zM873.43 62.01a9.8 9.8 0 1 0 19.6 0a9.8 9.8 0 1 0 -19.6 0zM878.06 61.03a9.8 9.8 0 1 0 19.6 0a9.8 9.8 0 1 0 -19.6 0zM882.7 59.93a9.8 9.8 0 1 0 19.6 0a9.8 9.8 0 1 0 -19.6 0zM887.33 59.36a9.8 9.8 0 1 0 19.6 0a9.8 9.8 0 1 0 -19.6 0zM891.96 59.65a9.8 9.8 0 1 0 19.6 0a9.8 9.8 0 1 0 -19.6 0zM896.59 60.62a9.8 9.8 0 1 0 19.6 0a9.8 9.8 0 1 0 -19.6 0zM901.22 61.72a9.8 9.8 0 1 0 19.6 0a9.8 9.8 0 1 0 -19.6 0zM905.85 62.29a9.8 9.8 0 1 0 19.6 0a9.8 9.8 0 1 0 -19.6 0zM910.49 62.02a9.8 9.8 0 1 0 19.6 0a9.8 9.8 0 1 0 -19.6 0zM915.12 61.05a9.8 9.8 0 1 0 19.6 0a9.8 9.8 0 1 0 -19.6 0zM919.75 59.96a9.8 9.8 0 1 0 19.6 0a9.8 9.8 0 1 0 -19.6 0zM924.38 59.37a9.8 9.8 0 1 0 19.6 0a9.8 9.8 0 1 0 -19.6 0zM929.01 59.62a9.8 9.8 0 1 0 19.6 0a9.8 9.8 0 1 0 -19.6 0zM933.64 60.56a9.8 9.8 0 1 0 19.6 0a9.8 9.8 0 1 0 -19.6 0zM938.28 61.65a9.8 9.8 0 1 0 19.6 0a9.8 9.8 0 1 0 -19.6 0zM942.91 62.28a9.8 9.8 0 1 0 19.6 0a9.8 9.8 0 1 0 -19.6 0zM947.54 62.08a9.8 9.8 0 1 0 19.6 0a9.8 9.8 0 1 0 -19.6 0zM952.17 61.17a9.8 9.8 0 1 0 19.6 0a9.8 9.8 0 1 0 -19.6 0zM956.8 60.07a9.8 9.8 0 1 0 19.6 0a9.8 9.8 0 1 0 -19.6 0zM961.44 59.4a9.8 9.8 0 1 0 19.6 0a9.8 9.8 0 1 0 -19.6 0zM966.07 59.54a9.8 9.8 0 1 0 19.6 0a9.8 9.8 0 1 0 -19.6 0zM970.7 60.4a9.8 9.8 0 1 0 19.6 0a9.8 9.8 0 1 0 -19.6 0zM975.33 61.5a9.8 9.8 0 1 0 19.6 0a9.8 9.8 0 1 0 -19.6 0zM979.96 62.23a9.8 9.8 0 1 0 19.6 0a9.8 9.8 0 1 0 -19.6 0zM984.59 62.17a9.8 9.8 0 1 0 19.6 0a9.8 9.8 0 1 0 -19.6 0zM989.23 61.36a9.8 9.8 0 1 0 19.6 0a9.8 9.8 0 1 0 -19.6 0zM993.86 60.26a9.8 9.8 0 1 0 19.6 0a9.8 9.8 0 1 0 -19.6 0zM998.49 59.47a9.8 9.8 0 1 0 19.6 0a9.8 9.8 0 1 0 -19.6 0zM1003.12 59.44a9.8 9.8 0 1 0 19.6 0a9.8 9.8 0 1 0 -19.6 0zM1007.75 60.17a9.8 9.8 0 1 0 19.6 0a9.8 9.8 0 1 0 -19.6 0zM1012.38 61.26a9.8 9.8 0 1 0 19.6 0a9.8 9.8 0 1 0 -19.6 0zM1017.02 62.12a9.8 9.8 0 1 0 19.6 0a9.8 9.8 0 1 0 -19.6 0zM1021.65 62.26a9.8 9.8 0 1 0 19.6 0a9.8 9.8 0 1 0 -19.6 0zM1026.28 61.62a9.8 9.8 0 1 0 19.6 0a9.8 9.8 0 1 0 -19.6 0zM1030.91 60.55a9.8 9.8 0 1 0 19.6 0a9.8 9.8 0 1 0 -19.6 0zM1035.54 59.63a9.8 9.8 0 1 0 19.6 0a9.8 9.8 0 1 0 -19.6 0zM1040.18 59.36a9.8 9.8 0 1 0 19.6 0a9.8 9.8 0 1 0 -19.6 0zM1044.81 59.89a9.8 9.8 0 1 0 19.6 0a9.8 9.8 0 1 0 -19.6 0zM1049.44 60.92a9.8 9.8 0 1 0 19.6 0a9.8 9.8 0 1 0 -19.6 0zM1054.07 61.91a9.8 9.8 0 1 0 19.6 0a9.8 9.8 0 1 0 -19.6 0zM1058.7 62.31a9.8 9.8 0 1 0 19.6 0a9.8 9.8 0 1 0 -19.6 0zM1063.33 61.91a9.8 9.8 0 1 0 19.6 0a9.8 9.8 0 1 0 -19.6 0zM1067.97 60.94a9.8 9.8 0 1 0 19.6 0a9.8 9.8 0 1 0 -19.6 0zM1072.6 59.91a9.8 9.8 0 1 0 19.6 0a9.8 9.8 0 1 0 -19.6 0zM1077.23 59.37a9.8 9.8 0 1 0 19.6 0a9.8 9.8 0 1 0 -19.6 0zM1081.86 59.61a9.8 9.8 0 1 0 19.6 0a9.8 9.8 0 1 0 -19.6 0zM1086.49 60.49a9.8 9.8 0 1 0 19.6 0a9.8 9.8 0 1 0 -19.6 0zM1091.12 61.56a9.8 9.8 0 1 0 19.6 0a9.8 9.8 0 1 0 -19.6 0zM1095.76 62.24a9.8 9.8 0 1 0 19.6 0a9.8 9.8 0 1 0 -19.6 0zM1100.39 62.17a9.8 9.8 0 1 0 19.6 0a9.8 9.8 0 1 0 -19.6 0zM1105.02 61.4a9.8 9.8 0 1 0 19.6 0a9.8 9.8 0 1 0 -19.6 0zM1109.65 60.33a9.8 9.8 0 1 0 19.6 0a9.8 9.8 0 1 0 -19.6 0zM1114.28 59.52a9.8 9.8 0 1 0 19.6 0a9.8 9.8 0 1 0 -19.6 0zM1118.91 71.03a9.8 9.8 0 1 0 19.6 0a9.8 9.8 0 1 0 -19.6 0zM1123.55 115.99a9.8 9.8 0 1 0 19.6 0a9.8 9.8 0 1 0 -19.6 0zM1128.18 204.72a9.8 9.8 0 1 0 19.6 0a9.8 9.8 0 1 0 -19.6 0zM1132.81 339.73a9.8 9.8 0 1 0 19.6 0a9.8 9.8 0 1 0 -19.6 0zM1137.44 507.87a9.8 9.8 0 1 0 19.6 0a9.8 9.8 0 1 0 -19.6 0zM1142.07 682.37a9.8 9.8 0 1 0 19.6 0a9.8 9.8 0 1 0 -19.6 0zM1146.71 841.04a9.8 9.8 0 1 0 19.6 0a9.8 9.8 0 1 0 -19.6 0zM1151.34 971.92a9.8 9.8 0 1 0 19.6 0a9.8 9.8 0 1 0 -19.6 0zM1155.97 1073.21a9.8 9.8 0 1 0 19.6 0a9.8 9.8 0 1 0 -19.6 0zM1160.6 1147.45a9.8 9.8 0 1 0 19.6 0a9.8 9.8 0 1 0 -19.6 0zM1165.23 1200.39a9.8 9.8 0 1 0 19.6 0a9.8 9.8 0 1 0 -19.6 0zM1169.86 1234.85a9.8 9.8 0 1 0 19.6 0a9.8 9.8 0 1 0 -19.6 0zM1174.5 1253.33a9.8 9.8 0 1 0 19.6 0a9.8 9.8 0 1 0 -19.6 0zM1179.13 1261.47a9.8 9.8 0 1 0 19.6 0a9.8 9.8 0 1 0 -19.6 0zM1183.76 1253.33a9.8 9.8 0 1 0 19.6 0a9.8 9.8 0 1 0 -19.6 0zM1188.39 1224.5a9.8 9.8 0 1 0 19.6 0a9.8 9.8 0 1 0 -19.6 0zM1193.02 1169.34a9.8 9.8 0 1 0 19.6 0a9.8 9.8 0 1 0 -19.6 0zM1197.65 1069.22a9.8 9.8 0 1 0 19.6 0a9.8 9.8 0 1 0 -19.6 0zM1202.29 896.35a9.8 9.8 0 1 0 19.6 0a9.8 9.8 0 1 0 -19.6 0zM1206.92 663.59a9.8 9.8 0 1 0 19.6 0a9.8 9.8 0 1 0 -19.6 0zM1211.55 597.04a9.8 9.8 0 1 0 19.6 0a9.8 9.8 0 1 0 -19.6 0zM1216.18 869.44a9.8 9.8 0 1 0 19.6 0a9.8 9.8 0 1 0 -19.6 0zM1220.81 1152.03a9.8 9.8 0 1 0 19.6 0a9.8 9.8 0 1 0 -19.6 0zM1225.45 1313.22a9.8 9.8 0 1 0 19.6 0a9.8 9.8 0 1 0 -19.6 0zM1230.08 1396.18a9.8 9.8 0 1 0 19.6 0a9.8 9.8 0 1 0 -19.6 0zM1234.71 1439.96a9.8 9.8 0 1 0 19.6 0a9.8 9.8 0 1 0 -19.6 0zM1239.34 1466.58a9.8 9.8 0 1 0 19.6 0a9.8 9.8 0 1 0 -19.6 0zM1243.97 1480.33a9.8 9.8 0 1 0 19.6 0a9.8 9.8 0 1 0 -19.6 0zM1248.6 1489.5a9.8 9.8 0 1 0 19.6 0a9.8 9.8 0 1 0 -19.6 0zM1253.24 1494.08a9.8 9.8 0 1 0 19.6 0a9.8 9.8 0 1 0 -19.6 0zM1257.87 1495.26a9.8 9.8 0 1 0 19.6 0a9.8 9.8 0 1 0 -19.6 0zM1262.5 1491.71a9.8 9.8 0 1 0 19.6 0a9.8 9.8 0 1 0 -19.6 0zM1267.13 1485.95a9.8 9.8 0 1 0 19.6 0a9.8 9.8 0 1 0 -19.6 0zM1271.76 1466.58a9.8 9.8 0 1 0 19.6 0a9.8 9.8 0 1 0 -19.6 0zM1276.39 1413.49a9.8 9.8 0 1 0 19.6 0a9.8 9.8 0 1 0 -19.6 0zM1281.03 1191.07a9.8 9.8 0 1 0 19.6 0a9.8 9.8 0 1 0 -19.6 0zM1285.66 915.87a9.8 9.8 0 1 0 19.6 0a9.8 9.8 0 1 0 -19.6 0zM1290.29 1416.3a9.8 9.8 0 1 0 19.6 0a9.8 9.8 0 1 0 -19.6 0zM1294.92 1501.03a9.8 9.8 0 1 0 19.6 0a9.8 9.8 0 1 0 -19.6 0zM1299.55 1519.37a9.8 9.8 0 1 0 19.6 0a9.8 9.8 0 1 0 -19.6 0zM1304.18 1527.21a9.8 9.8 0 1 0 19.6 0a9.8 9.8 0 1 0 -19.6 0zM1308.82 1530.9a9.8 9.8 0 1 0 19.6 0a9.8 9.8 0 1 0 -19.6 0zM1313.45 1533.86a9.8 9.8 0 1 0 19.6 0a9.8 9.8 0 1 0 -19.6 0zM1318.08 1535.64a9.8 9.8 0 1 0 19.6 0a9.8 9.8 0 1 0 -19.6 0zM1322.71 1535.64a9.8 9.8 0 1 0 19.6 0a9.8 9.8 0 1 0 -19.6 0zM1327.34 1535.64a9.8 9.8 0 1 0 19.6 0a9.8 9.8 0 1 0 -19.6 0zM1331.98 1535.64a9.8 9.8 0 1 0 19.6 0a9.8 9.8 0 1 0 -19.6 0zM1336.61 1535.64a9.8 9.8 0 1 0 19.6 0a9.8 9.8 0 1 0 -19.6 0zM1341.24 1535.64a9.8 9.8 0 1 0 19.6 0a9.8 9.8 0 1 0 -19.6 0zM1345.87 1535.64a9.8 9.8 0 1 0 19.6 0a9.8 9.8 0 1 0 -19.6 0zM1350.5 1535.64a9.8 9.8 0 1 0 19.6 0a9.8 9.8 0 1 0 -19.6 0zM1355.13 1535.64a9.8 9.8 0 1 0 19.6 0a9.8 9.8 0 1 0 -19.6 0zM1359.77 1535.64a9.8 9.8 0 1 0 19.6 0a9.8 9.8 0 1 0 -19.6 0zM1364.4 1535.64a9.8 9.8 0 1 0 19.6 0a9.8 9.8 0 1 0 -19.6 0zM1369.03 1535.64a9.8 9.8 0 1 0 19.6 0a9.8 9.8 0 1 0 -19.6 0zM1373.66 1535.64a9.8 9.8 0 1 0 19.6 0a9.8 9.8 0 1 0 -19.6 0zM1378.29 1535.64a9.8 9.8 0 1 0 19.6 0a9.8 9.8 0 1 0 -19.6 0zM1382.92 1535.64a9.8 9.8 0 1 0 19.6 0a9.8 9.8 0 1 0 -19.6 0zM1387.56 1535.64a9.8 9.8 0 1 0 19.6 0a9.8 9.8 0 1 0 -19.6 0zM1392.19 1535.64a9.8 9.8 0 1 0 19.6 0a9.8 9.8 0 1 0 -19.6 0zM1396.82 1535.64a9.8 9.8 0 1 0 19.6 0a9.8 9.8 0 1 0 -19.6 0zM1401.45 1535.64a9.8 9.8 0 1 0 19.6 0a9.8 9.8 0 1 0 -19.6 0zM1406.08 1535.64a9.8 9.8 0 1 0 19.6 0a9.8 9.8 0 1 0 -19.6 0zM1410.72 1535.64a9.8 9.8 0 1 0 19.6 0a9.8 9.8 0 1 0 -19.6 0zM1415.35 1535.64a9.8 9.8 0 1 0 19.6 0a9.8 9.8 0 1 0 -19.6 0zM1419.98 1535.64a9.8 9.8 0 1 0 19.6 0a9.8 9.8 0 1 0 -19.6 0zM1424.61 1535.64a9.8 9.8 0 1 0 19.6 0a9.8 9.8 0 1 0 -19.6 0zM1429.24 1535.64a9.8 9.8 0 1 0 19.6 0a9.8 9.8 0 1 0 -19.6 0zM1433.87 1535.64a9.8 9.8 0 1 0 19.6 0a9.8 9.8 0 1 0 -19.6 0zM1438.51 1535.64a9.8 9.8 0 1 0 19.6 0a9.8 9.8 0 1 0 -19.6 0zM1443.14 1535.64a9.8 9.8 0 1 0 19.6 0a9.8 9.8 0 1 0 -19.6 0zM1447.77 1535.64a9.8 9.8 0 1 0 19.6 0a9.8 9.8 0 1 0 -19.6 0zM1452.4 1535.64a9.8 9.8 0 1 0 19.6 0a9.8 9.8 0 1 0 -19.6 0zM1457.03 1535.64a9.8 9.8 0 1 0 19.6 0a9.8 9.8 0 1 0 -19.6 0zM1461.66 1535.63a9.8 9.8 0 1 0 19.6 0a9.8 9.8 0 1 0 -19.6 0zM1466.3 1535.63a9.8 9.8 0 1 0 19.6 0a9.8 9.8 0 1 0 -19.6 0zM1470.93 1535.62a9.8 9.8 0 1 0 19.6 0a9.8 9.8 0 1 0 -19.6 0zM1475.56 1535.57a9.8 9.8 0 1 0 19.6 0a9.8 9.8 0 1 0 -19.6 0zM1480.19 1535.45a9.8 9.8 0 1 0 19.6 0a9.8 9.8 0 1 0 -19.6 0zM1484.82 1535.18a9.8 9.8 0 1 0 19.6 0a9.8 9.8 0 1 0 -19.6 0zM1489.45 1534.75a9.8 9.8 0 1 0 19.6 0a9.8 9.8 0 1 0 -19.6 0zM1494.09 1534.25a9.8 9.8 0 1 0 19.6 0a9.8 9.8 0 1 0 -19.6 0zM1498.72 1533.91a9.8 9.8 0 1 0 19.6 0a9.8 9.8 0 1 0 -19.6 0zM1503.35 1533.91a9.8 9.8 0 1 0 19.6 0a9.8 9.8 0 1 0 -19.6 0zM1507.98 1534.25a9.8 9.8 0 1 0 19.6 0a9.8 9.8 0 1 0 -19.6 0zM1512.61 1534.75a9.8 9.8 0 1 0 19.6 0a9.8 9.8 0 1 0 -19.6 0zM1517.25 1535.18a9.8 9.8 0 1 0 19.6 0a9.8 9.8 0 1 0 -19.6 0zM1521.88 1535.45a9.8 9.8 0 1 0 19.6 0a9.8 9.8 0 1 0 -19.6 0zM1526.51 1535.57a9.8 9.8 0 1 0 19.6 0a9.8 9.8 0 1 0 -19.6 0zM1531.14 1535.62a9.8 9.8 0 1 0 19.6 0a9.8 9.8 0 1 0 -19.6 0zM1535.77 1535.63a9.8 9.8 0 1 0 19.6 0a9.8 9.8 0 1 0 -19.6 0zM1540.4 1535.63a9.8 9.8 0 1 0 19.6 0a9.8 9.8 0 1 0 -19.6 0zM1545.04 1535.64a9.8 9.8 0 1 0 19.6 0a9.8 9.8 0 1 0 -19.6 0zM1549.67 1535.64a9.8 9.8 0 1 0 19.6 0a9.8 9.8 0 1 0 -19.6 0zM1554.3 1535.64a9.8 9.8 0 1 0 19.6 0a9.8 9.8 0 1 0 -19.6 0zM1558.93 1535.64a9.8 9.8 0 1 0 19.6 0a9.8 9.8 0 1 0 -19.6 0zM1563.56 1535.64a9.8 9.8 0 1 0 19.6 0a9.8 9.8 0 1 0 -19.6 0zM1568.19 1535.64a9.8 9.8 0 1 0 19.6 0a9.8 9.8 0 1 0 -19.6 0zM1572.83 1535.64a9.8 9.8 0 1 0 19.6 0a9.8 9.8 0 1 0 -19.6 0zM1577.46 1535.64a9.8 9.8 0 1 0 19.6 0a9.8 9.8 0 1 0 -19.6 0zM1582.09 1535.64a9.8 9.8 0 1 0 19.6 0a9.8 9.8 0 1 0 -19.6 0zM1586.72 1535.64a9.8 9.8 0 1 0 19.6 0a9.8 9.8 0 1 0 -19.6 0zM1591.35 1535.64a9.8 9.8 0 1 0 19.6 0a9.8 9.8 0 1 0 -19.6 0zM1595.99 1535.64a9.8 9.8 0 1 0 19.6 0a9.8 9.8 0 1 0 -19.6 0zM1600.62 1535.64a9.8 9.8 0 1 0 19.6 0a9.8 9.8 0 1 0 -19.6 0zM1605.25 1535.64a9.8 9.8 0 1 0 19.6 0a9.8 9.8 0 1 0 -19.6 0zM1609.88 1535.64a9.8 9.8 0 1 0 19.6 0a9.8 9.8 0 1 0 -19.6 0zM1614.51 1535.64a9.8 9.8 0 1 0 19.6 0a9.8 9.8 0 1 0 -19.6 0zM1619.14 1535.64a9.8 9.8 0 1 0 19.6 0a9.8 9.8 0 1 0 -19.6 0zM1623.78 1535.64a9.8 9.8 0 1 0 19.6 0a9.8 9.8 0 1 0 -19.6 0zM1628.41 1535.64a9.8 9.8 0 1 0 19.6 0a9.8 9.8 0 1 0 -19.6 0zM1633.04 1535.64a9.8 9.8 0 1 0 19.6 0a9.8 9.8 0 1 0 -19.6 0zM1637.67 1535.64a9.8 9.8 0 1 0 19.6 0a9.8 9.8 0 1 0 -19.6 0zM1642.3 1535.64a9.8 9.8 0 1 0 19.6 0a9.8 9.8 0 1 0 -19.6 0zM1646.93 1535.64a9.8 9.8 0 1 0 19.6 0a9.8 9.8 0 1 0 -19.6 0zM1651.57 1535.64a9.8 9.8 0 1 0 19.6 0a9.8 9.8 0 1 0 -19.6 0zM1656.2 1535.64a9.8 9.8 0 1 0 19.6 0a9.8 9.8 0 1 0 -19.6 0zM1660.83 1535.64a9.8 9.8 0 1 0 19.6 0a9.8 9.8 0 1 0 -19.6 0zM1665.46 1535.63a9.8 9.8 0 1 0 19.6 0a9.8 9.8 0 1 0 -19.6 0zM1670.09 1535.63a9.8 9.8 0 1 0 19.6 0a9.8 9.8 0 1 0 -19.6 0zM1674.73 1535.57a9.8 9.8 0 1 0 19.6 0a9.8 9.8 0 1 0 -19.6 0zM1679.36 1535.25a9.8 9.8 0 1 0 19.6 0a9.8 9.8 0 1 0 -19.6 0zM1683.99 1534.28a9.8 9.8 0 1 0 19.6 0a9.8 9.8 0 1 0 -19.6 0zM1688.62 1532.76a9.8 9.8 0 1 0 19.6 0a9.8 9.8 0 1 0 -19.6 0zM1693.25 1531.94a9.8 9.8 0 1 0 19.6 0a9.8 9.8 0 1 0 -19.6 0zM1697.88 1532.76a9.8 9.8 0 1 0 19.6 0a9.8 9.8 0 1 0 -19.6 0zM1702.52 1534.28a9.8 9.8 0 1 0 19.6 0a9.8 9.8 0 1 0 -19.6 0zM1707.15 1535.25a9.8 9.8 0 1 0 19.6 0a9.8 9.8 0 1 0 -19.6 0zM1711.78 1535.57a9.8 9.8 0 1 0 19.6 0a9.8 9.8 0 1 0 -19.6 0zM1716.41 1535.63a9.8 9.8 0 1 0 19.6 0a9.8 9.8 0 1 0 -19.6 0zM1721.04 1535.63a9.8 9.8 0 1 0 19.6 0a9.8 9.8 0 1 0 -19.6 0zM1725.67 1535.64a9.8 9.8 0 1 0 19.6 0a9.8 9.8 0 1 0 -19.6 0zM1730.31 1535.64a9.8 9.8 0 1 0 19.6 0a9.8 9.8 0 1 0 -19.6 0zM1734.94 1535.64a9.8 9.8 0 1 0 19.6 0a9.8 9.8 0 1 0 -19.6 0zM1739.57 1535.64a9.8 9.8 0 1 0 19.6 0a9.8 9.8 0 1 0 -19.6 0zM1744.2 1535.64a9.8 9.8 0 1 0 19.6 0a9.8 9.8 0 1 0 -19.6 0zM1748.83 1535.64a9.8 9.8 0 1 0 19.6 0a9.8 9.8 0 1 0 -19.6 0zM1753.46 1535.64a9.8 9.8 0 1 0 19.6 0a9.8 9.8 0 1 0 -19.6 0zM1758.1 1535.64a9.8 9.8 0 1 0 19.6 0a9.8 9.8 0 1 0 -19.6 0zM1762.73 1535.64a9.8 9.8 0 1 0 19.6 0a9.8 9.8 0 1 0 -19.6 0zM1767.36 1535.64a9.8 9.8 0 1 0 19.6 0a9.8 9.8 0 1 0 -19.6 0zM1771.99 1535.64a9.8 9.8 0 1 0 19.6 0a9.8 9.8 0 1 0 -19.6 0zM1776.62 1535.64a9.8 9.8 0 1 0 19.6 0a9.8 9.8 0 1 0 -19.6 0zM1781.26 1535.64a9.8 9.8 0 1 0 19.6 0a9.8 9.8 0 1 0 -19.6 0zM1785.89 1535.64a9.8 9.8 0 1 0 19.6 0a9.8 9.8 0 1 0 -19.6 0zM1790.52 1535.64a9.8 9.8 0 1 0 19.6 0a9.8 9.8 0 1 0 -19.6 0zM1795.15 1535.64a9.8 9.8 0 1 0 19.6 0a9.8 9.8 0 1 0 -19.6 0zM1799.78 1535.64a9.8 9.8 0 1 0 19.6 0a9.8 9.8 0 1 0 -19.6 0zM1804.41 1535.64a9.8 9.8 0 1 0 19.6 0a9.8 9.8 0 1 0 -19.6 0zM1809.05 1535.64a9.8 9.8 0 1 0 19.6 0a9.8 9.8 0 1 0 -19.6 0zM1813.68 1535.64a9.8 9.8 0 1 0 19.6 0a9.8 9.8 0 1 0 -19.6 0zM1818.31 1535.64a9.8 9.8 0 1 0 19.6 0a9.8 9.8 0 1 0 -19.6 0zM1822.94 1535.64a9.8 9.8 0 1 0 19.6 0a9.8 9.8 0 1 0 -19.6 0zM1827.57 1535.64a9.8 9.8 0 1 0 19.6 0a9.8 9.8 0 1 0 -19.6 0zM1832.2 1535.64a9.8 9.8 0 1 0 19.6 0a9.8 9.8 0 1 0 -19.6 0zM1836.84 1535.64a9.8 9.8 0 1 0 19.6 0a9.8 9.8 0 1 0 -19.6 0zM1841.47 1535.64a9.8 9.8 0 1 0 19.6 0a9.8 9.8 0 1 0 -19.6 0zM1846.1 1535.64a9.8 9.8 0 1 0 19.6 0a9.8 9.8 0 1 0 -19.6 0zM1850.73 1535.64a9.8 9.8 0 1 0 19.6 0a9.8 9.8 0 1 0 -19.6 0zM1855.36 1535.64a9.8 9.8 0 1 0 19.6 0a9.8 9.8 0 1 0 -19.6 0zM1859.99 1535.64a9.8 9.8 0 1 0 19.6 0a9.8 9.8 0 1 0 -19.6 0zM1864.63 1535.64a9.8 9.8 0 1 0 19.6 0a9.8 9.8 0 1 0 -19.6 0zM1869.26 1535.64a9.8 9.8 0 1 0 19.6 0a9.8 9.8 0 1 0 -19.6 0zM1873.89 1535.64a9.8 9.8 0 1 0 19.6 0a9.8 9.8 0 1 0 -19.6 0zM1878.52 1535.64a9.8 9.8 0 1 0 19.6 0a9.8 9.8 0 1 0 -19.6 0zM1883.15 1535.64a9.8 9.8 0 1 0 19.6 0a9.8 9.8 0 1 0 -19.6 0zM1887.79 1535.64a9.8 9.8 0 1 0 19.6 0a9.8 9.8 0 1 0 -19.6 0zM1892.42 1535.64a9.8 9.8 0 1 0 19.6 0a9.8 9.8 0 1 0 -19.6 0zM1897.05 1533.86a9.8 9.8 0 1 0 19.6 0a9.8 9.8 0 1 0 -19.6 0zM1901.68 1532.83a9.8 9.8 0 1 0 19.6 0a9.8 9.8 0 1 0 -19.6 0zM1906.31 1530.61a9.8 9.8 0 1 0 19.6 0a9.8 9.8 0 1 0 -19.6 0zM1910.94 1528.68a9.8 9.8 0 1 0 19.6 0a9.8 9.8 0 1 0 -19.6 0zM1915.58 1526.02a9.8 9.8 0 1 0 19.6 0a9.8 9.8 0 1 0 -19.6 0zM1920.21 1522.03a9.8 9.8 0 1 0 19.6 0a9.8 9.8 0 1 0 -19.6 0zM1924.84 1515.97a9.8 9.8 0 1 0 19.6 0a9.8 9.8 0 1 0 -19.6 0zM1929.47 1505.62a9.8 9.8 0 1 0 19.6 0a9.8 9.8 0 1 0 -19.6 0zM1934.1 1490.68a9.8 9.8 0 1 0 19.6 0a9.8 9.8 0 1 0 -19.6 0zM1938.73 1466.58a9.8 9.8 0 1 0 19.6 0a9.8 9.8 0 1 0 -19.6 0zM1943.37 1427.24a9.8 9.8 0 1 0 19.6 0a9.8 9.8 0 1 0 -19.6 0zM1948 1365.13a9.8 9.8 0 1 0 19.6 0a9.8 9.8 0 1 0 -19.6 0zM1952.63 1280.25a9.8 9.8 0 1 0 19.6 0a9.8 9.8 0 1 0 -19.6 0zM1957.26 1195.95a9.8 9.8 0 1 0 19.6 0a9.8 9.8 0 1 0 -19.6 0zM1961.89 1156.03a9.8 9.8 0 1 0 19.6 0a9.8 9.8 0 1 0 -19.6 0zM1966.53 1169.34a9.8 9.8 0 1 0 19.6 0a9.8 9.8 0 1 0 -19.6 0zM1971.16 1202.61a9.8 9.8 0 1 0 19.6 0a9.8 9.8 0 1 0 -19.6 0zM1975.79 1240.32a9.8 9.8 0 1 0 19.6 0a9.8 9.8 0 1 0 -19.6 0zM1980.42 1266.94a9.8 9.8 0 1 0 19.6 0a9.8 9.8 0 1 0 -19.6 0zM1985.05 1289.12a9.8 9.8 0 1 0 19.6 0a9.8 9.8 0 1 0 -19.6 0zM1989.68 1300.95a9.8 9.8 0 1 0 19.6 0a9.8 9.8 0 1 0 -19.6 0zM1994.32 1304.65a9.8 9.8 0 1 0 19.6 0a9.8 9.8 0 1 0 -19.6 0zM1998.95 1303.91a9.8 9.8 0 1 0 19.6 0a9.8 9.8 0 1 0 -19.6 0zM2003.58 1298.73a9.8 9.8 0 1 0 19.6 0a9.8 9.8 0 1 0 -19.6 0zM2008.21 1286.9a9.8 9.8 0 1 0 19.6 0a9.8 9.8 0 1 0 -19.6 0zM2012.84 1271.37a9.8 9.8 0 1 0 19.6 0a9.8 9.8 0 1 0 -19.6 0zM2017.47 1255.57a9.8 9.8 0 1 0 19.6 0a9.8 9.8 0 1 0 -19.6 0zM2022.11 1240.32a9.8 9.8 0 1 0 19.6 0a9.8 9.8 0 1 0 -19.6 0zM2026.74 1227.1a9.8 9.8 0 1 0 19.6 0a9.8 9.8 0 1 0 -19.6 0zM2031.37 1216.66a9.8 9.8 0 1 0 19.6 0a9.8 9.8 0 1 0 -19.6 0zM2036 1209.54a9.8 9.8 0 1 0 19.6 0a9.8 9.8 0 1 0 -19.6 0zM2040.63 1204.83a9.8 9.8 0 1 0 19.6 0a9.8 9.8 0 1 0 -19.6 0zM2045.26 1202.61a9.8 9.8 0 1 0 19.6 0a9.8 9.8 0 1 0 -19.6 0zM2049.9 1203.35a9.8 9.8 0 1 0 19.6 0a9.8 9.8 0 1 0 -19.6 0zM2054.53 1206.75a9.8 9.8 0 1 0 19.6 0a9.8 9.8 0 1 0 -19.6 0zM2059.16 1212.22a9.8 9.8 0 1 0 19.6 0a9.8 9.8 0 1 0 -19.6 0zM2063.79 1218.75a9.8 9.8 0 1 0 19.6 0a9.8 9.8 0 1 0 -19.6 0zM2068.42 1225.53a9.8 9.8 0 1 0 19.6 0a9.8 9.8 0 1 0 -19.6 0zM2073.06 1231.52a9.8 9.8 0 1 0 19.6 0a9.8 9.8 0 1 0 -19.6 0zM2077.69 1235.88a9.8 9.8 0 1 0 19.6 0a9.8 9.8 0 1 0 -19.6 0zM2082.32 1238.18a9.8 9.8 0 1 0 19.6 0a9.8 9.8 0 1 0 -19.6 0zM2086.95 1238.61a9.8 9.8 0 1 0 19.6 0a9.8 9.8 0 1 0 -19.6 0zM2091.58 1235.88a9.8 9.8 0 1 0 19.6 0a9.8 9.8 0 1 0 -19.6 0zM2096.21 1230.49a9.8 9.8 0 1 0 19.6 0a9.8 9.8 0 1 0 -19.6 0zM2100.85 1222.57a9.8 9.8 0 1 0 19.6 0a9.8 9.8 0 1 0 -19.6 0zM2105.48 1212.57a9.8 9.8 0 1 0 19.6 0a9.8 9.8 0 1 0 -19.6 0zM2110.11 1200.39a9.8 9.8 0 1 0 19.6 0a9.8 9.8 0 1 0 -19.6 0zM2114.74 1186.59a9.8 9.8 0 1 0 19.6 0a9.8 9.8 0 1 0 -19.6 0zM2119.37 1170.82a9.8 9.8 0 1 0 19.6 0a9.8 9.8 0 1 0 -19.6 0zM2124 1148.63a9.8 9.8 0 1 0 19.6 0a9.8 9.8 0 1 0 -19.6 0zM2128.64 1123.49a9.8 9.8 0 1 0 19.6 0a9.8 9.8 0 1 0 -19.6 0zM2133.27 1093.92a9.8 9.8 0 1 0 19.6 0a9.8 9.8 0 1 0 -19.6 0zM2137.9 1062.86a9.8 9.8 0 1 0 19.6 0a9.8 9.8 0 1 0 -19.6 0z"/>
</g>
</g>
<g id="legend">
<rect x="1458" y="72" width="655" height="224" fill="#fff"/>
<line x1="1474.3" y1="129.4" x2="1670.2" y2="129.4" stroke="#000" stroke-width="5.5"/>
<rect x="1563.25" y="120.65" width="17.5" height="17.5" fill="#000"/>
<line x1="1474.3" y1="234.5" x2="1670.2" y2="234.5" stroke="#00f" stroke-width="6.2"/>
<circle cx="1572" cy="234.5" r="9.8" fill="#00f"/>
<text class="lg" transform="translate(1689.8 159.4) scale(1 1.03)">Initial</text>
<text class="lg" transform="translate(1689.8 264.2) scale(1 1.03)">Theoretical</text>
</g>
<g id="xticklabels" class="tk" text-anchor="middle">
<text transform="translate(295 1647) scale(1 1.01)">300</text>
<text transform="translate(758.17 1647) scale(1 1.01)">400</text>
<text transform="translate(1221.35 1647) scale(1 1.01)">500</text>
<text transform="translate(1684.53 1647) scale(1 1.01)">600</text>
<text transform="translate(2147.7 1647) scale(1 1.01)">700</text>
</g>
<g id="yticklabels" class="tk" text-anchor="end">
<text transform="translate(264.3 1564) scale(1 1.01)">0</text>
<text transform="translate(264.3 1267.8) scale(1 1.01)">20</text>
<text transform="translate(264.3 972.3) scale(1 1.01)">40</text>
<text transform="translate(264.3 675.9) scale(1 1.01)">60</text>
<text transform="translate(264.3 379.7) scale(1 1.01)">80</text>
<text transform="translate(264.3 83.6) scale(1 1.01)">100</text>
</g>
<text id="xtitle" class="tt" text-anchor="middle" transform="translate(1222 1798.2) scale(1 1.04)">Wavelength (nm)</text>
<text id="ytitle" class="ty" text-anchor="middle" transform="translate(89.8 799.1) rotate(-90) scale(1 1.03)">Transmittance (%)</text>
</svg>
</body></html>
